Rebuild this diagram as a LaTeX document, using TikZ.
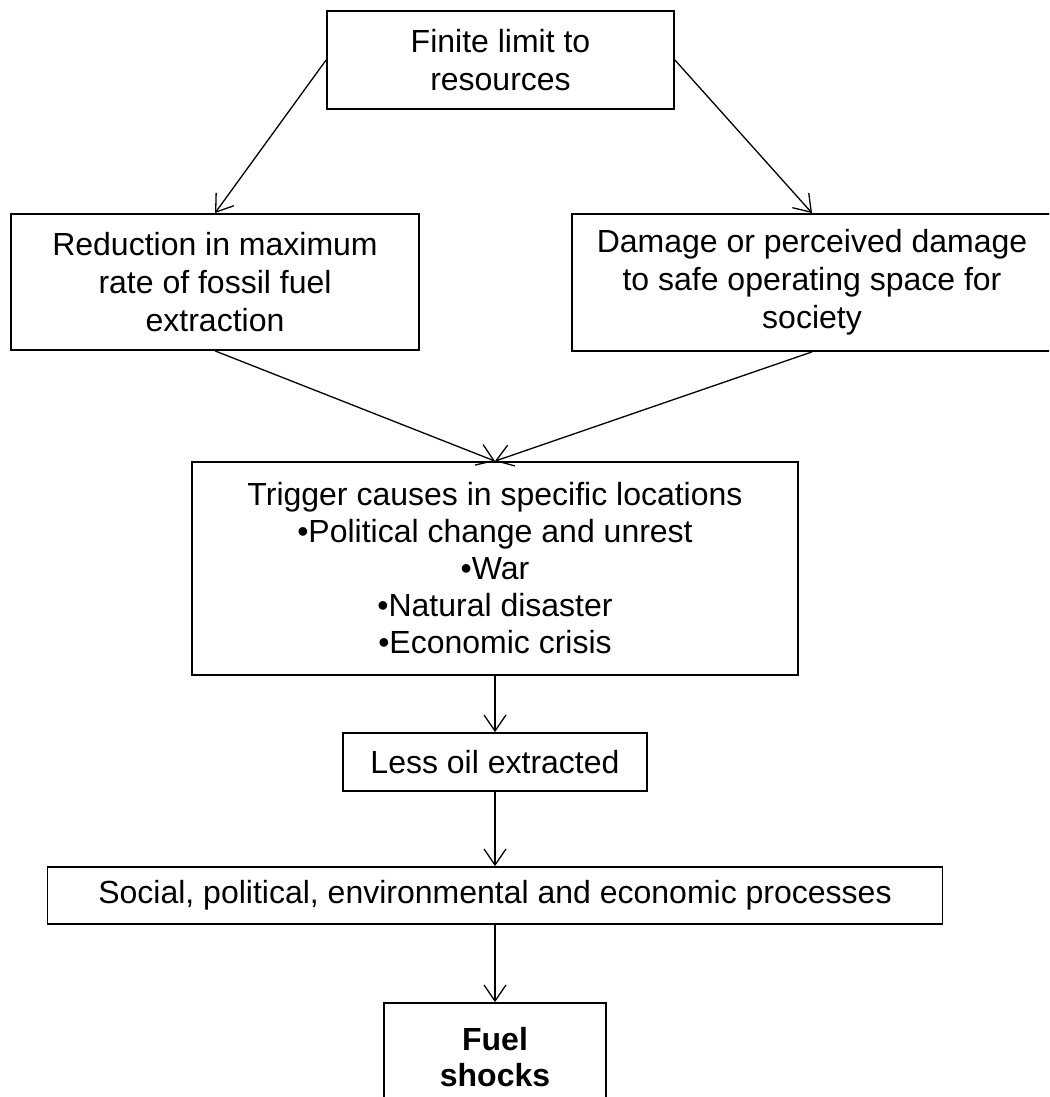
\documentclass[tikz,border=0pt]{standalone}
\usepackage{fontspec}
\setmainfont{Liberation Sans}
\usetikzlibrary{arrows.meta}
\begin{document}
\begin{tikzpicture}[x=0.5pt,y=-0.5pt,
  box/.style={draw, line width=0.9pt, inner sep=0pt, align=center,
    font=\fontsize{16}{19}\selectfont},
  link/.style={line width=0.65pt, -{Straight Barb[length=8pt,width=11pt]}}]
\clip (0,0) rectangle (1049,1097);

% boxes
\node[box, minimum width=173.5pt, minimum height=49pt] (top) at (500.5,60)
  {Finite limit to\\resources};
\node[box, minimum width=204pt, minimum height=68pt] (left) at (215,282)
  {Reduction in maximum\\rate of fossil fuel\\extraction};
\node[box, minimum width=240pt, minimum height=68.5pt] (right) at (812,282.5)
  {Damage or perceived damage\\to safe operating space for\\society};
\node[box, minimum width=303pt, minimum height=106.5pt,
  font=\fontsize{16}{18.5}\selectfont] (mid) at (495,568.5)
  {Trigger causes in specific locations\\•Political change and unrest\\•War\\•Natural disaster\\•Economic crisis};
\node[box, minimum width=152pt, minimum height=29pt] (less) at (495,762)
  {Less oil extracted};
\node[box, minimum width=447.5pt, minimum height=28.5pt] (social) at (495,895.5)
  {Social, political, environmental and economic processes};
\node[box, minimum width=111pt, minimum height=54pt,
  font=\fontsize{16}{18}\selectfont\bfseries] (fuel) at (495,1057)
  {Fuel\\shocks};

% connectors
\draw[link] (top.west) -- (left.north);
\draw[link] (top.east) -- (right.north);
\draw[link] (left.south) -- (mid.north);
\draw[link] (right.south) -- (mid.north);
\draw[link] (mid.south) -- (less.north);
\draw[link] (less.south) -- (social.north);
\draw[link] (social.south) -- (fuel.north);
\end{tikzpicture}
\end{document}
